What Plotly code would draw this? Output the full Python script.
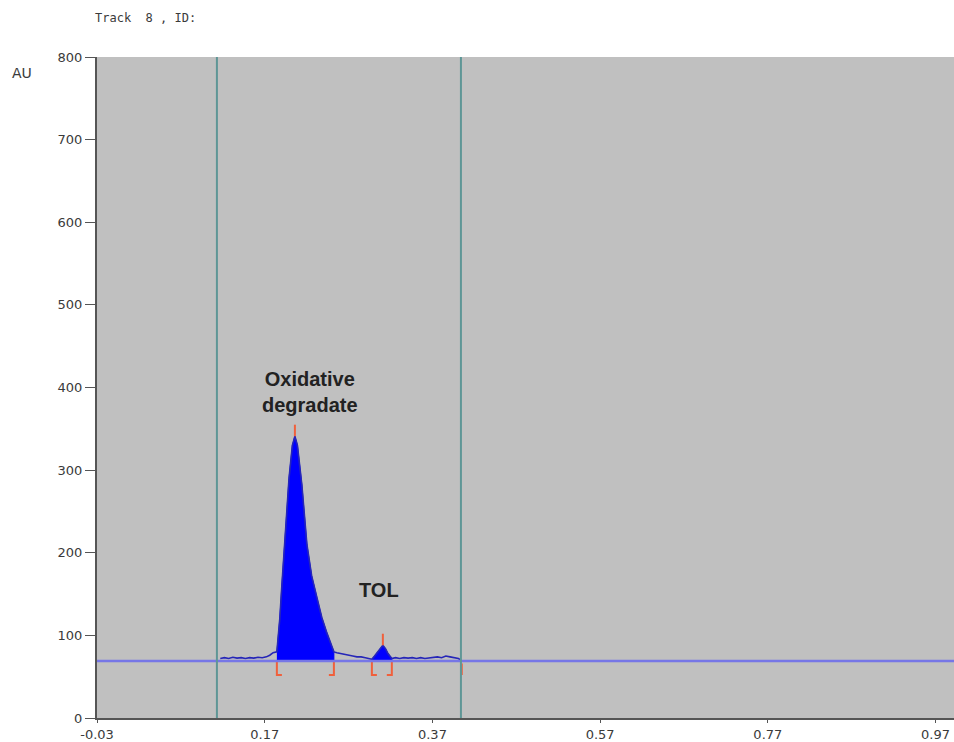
import plotly.graph_objects as go

# ---- data ----
x_ticks = [-0.03, 0.17, 0.37, 0.57, 0.77, 0.97]
y_ticks = [0, 100, 200, 300, 400, 500, 600, 700, 800]
baseline_au = 69
track_start = 0.113
track_end = 0.404

sig_x = [0.117, 0.122, 0.127, 0.132, 0.137, 0.142, 0.147, 0.152, 0.157, 0.162,
         0.167, 0.172, 0.176, 0.180, 0.1845, 0.188, 0.1905, 0.193, 0.1953, 0.199,
         0.203, 0.206, 0.209, 0.2143, 0.2203, 0.226, 0.2322, 0.238, 0.2441, 0.2501,
         0.2525, 0.256, 0.260, 0.265, 0.270, 0.275, 0.280, 0.285, 0.290, 0.295,
         0.2978, 0.301, 0.304, 0.3075, 0.3109, 0.314, 0.317, 0.3216, 0.326, 0.331,
         0.336, 0.341, 0.346, 0.351, 0.356, 0.361, 0.366, 0.371, 0.376, 0.381,
         0.386, 0.391, 0.396, 0.401, 0.404]
sig_y = [72, 73, 72, 73.5, 72.5, 73, 72, 73, 72.5, 73.5,
         73, 74, 76, 79, 80, 120, 161, 200, 242, 290,
         330, 341, 330, 282, 210, 172, 146, 122, 103, 86,
         80, 79, 78, 77, 76, 75, 74, 74, 73, 72,
         71, 75, 79, 84, 88, 84, 78, 72, 73, 72,
         73, 72.5, 73, 72, 73, 72, 72.5, 73, 74, 73,
         75, 74, 73, 72, 70]

peak_names = ["Oxidative<br>degradate", "TOL"]
peak_start = [0.1845, 0.2978]
peak_apex = [0.206, 0.3109]
peak_end = [0.2525, 0.3216]
peak_height = [341, 88]
label_x = [0.224, 0.306]
label_y = [395, 155]

blue_fill = "#0000ff"
red = "#f0603c"
axis_col = "#555555"
text_col = "#3a3a3a"

fig = go.Figure()

# peak fills
for s, e in zip(peak_start, peak_end):
    px = [x for x in sig_x if s <= x <= e]
    py = [y for x, y in zip(sig_x, sig_y) if s <= x <= e]
    fig.add_trace(go.Scatter(x=px + [e, s], y=py + [baseline_au, baseline_au],
                             fill="toself", fillcolor=blue_fill, mode="lines",
                             line=dict(color=blue_fill, width=1), hoverinfo="skip",
                             showlegend=False))

# baseline
fig.add_hline(y=baseline_au, line=dict(color="#7676e6", width=2.5))

# signal
fig.add_trace(go.Scatter(x=sig_x, y=sig_y, mode="lines",
                         line=dict(color="#2626b8", width=1.6), showlegend=False))

# track boundaries
for v in (track_start, track_end):
    fig.add_vline(x=v, line=dict(color="#5e9696", width=2))

# red peak markers
foot = 0.006
for s, a, e, h in zip(peak_start, peak_apex, peak_end, peak_height):
    fig.add_trace(go.Scatter(x=[a, a], y=[h, h + 14], mode="lines",
                             line=dict(color=red, width=2), showlegend=False))
    fig.add_trace(go.Scatter(x=[s, s, s + foot], y=[baseline_au, 52, 52], mode="lines",
                             line=dict(color=red, width=2), showlegend=False))
    fig.add_trace(go.Scatter(x=[e, e, e - foot], y=[baseline_au, 52, 52], mode="lines",
                             line=dict(color=red, width=2), showlegend=False))
fig.add_trace(go.Scatter(x=[track_end + 0.001, track_end + 0.001], y=[66, 52], mode="lines",
                         line=dict(color=red, width=2), showlegend=False))

for name, lx, ly in zip(peak_names, label_x, label_y):
    fig.add_annotation(x=lx, y=ly, text="<b>" + name + "</b>", showarrow=False,
                       font=dict(family="Liberation Sans, Arial", size=20, color="#222222"),
                       align="center")

fig.add_annotation(xref="paper", yref="paper", x=-0.005, y=1.059, xanchor="left",
                   yanchor="middle", text="Track  8 , ID:", showarrow=False,
                   font=dict(family="DejaVu Sans Mono", size=12, color=text_col))
fig.add_annotation(xref="paper", yref="paper", x=-0.101, y=0.976, xanchor="left",
                   yanchor="middle", text="AU", showarrow=False,
                   font=dict(family="DejaVu Sans", size=14, color=text_col))

fig.update_layout(
    width=954, height=742,
    margin=dict(l=97, r=0, t=57, b=21),
    paper_bgcolor="white", plot_bgcolor="#c0c0c0",
    showlegend=False,
    xaxis=dict(range=[-0.03, 0.992], tickmode="array", tickvals=x_ticks,
               ticktext=[f"{t:.2f}" for t in x_ticks], showgrid=False, zeroline=False,
               showline=True, linecolor=axis_col, linewidth=2, ticks="outside",
               ticklen=3, tickcolor=axis_col,
               tickfont=dict(family="DejaVu Sans", size=13, color=text_col)),
    yaxis=dict(range=[0, 800], tickmode="array", tickvals=y_ticks, showgrid=False,
               zeroline=False, showline=True, linecolor=axis_col, linewidth=2,
               ticks="outside", ticklen=10, tickcolor=axis_col,
               tickfont=dict(family="DejaVu Sans", size=13, color=text_col)),
)

fig.write_html("out.html", config={"displayModeBar": False},
               post_script="document.body.style.margin='0';document.body.style.overflow='hidden';")
